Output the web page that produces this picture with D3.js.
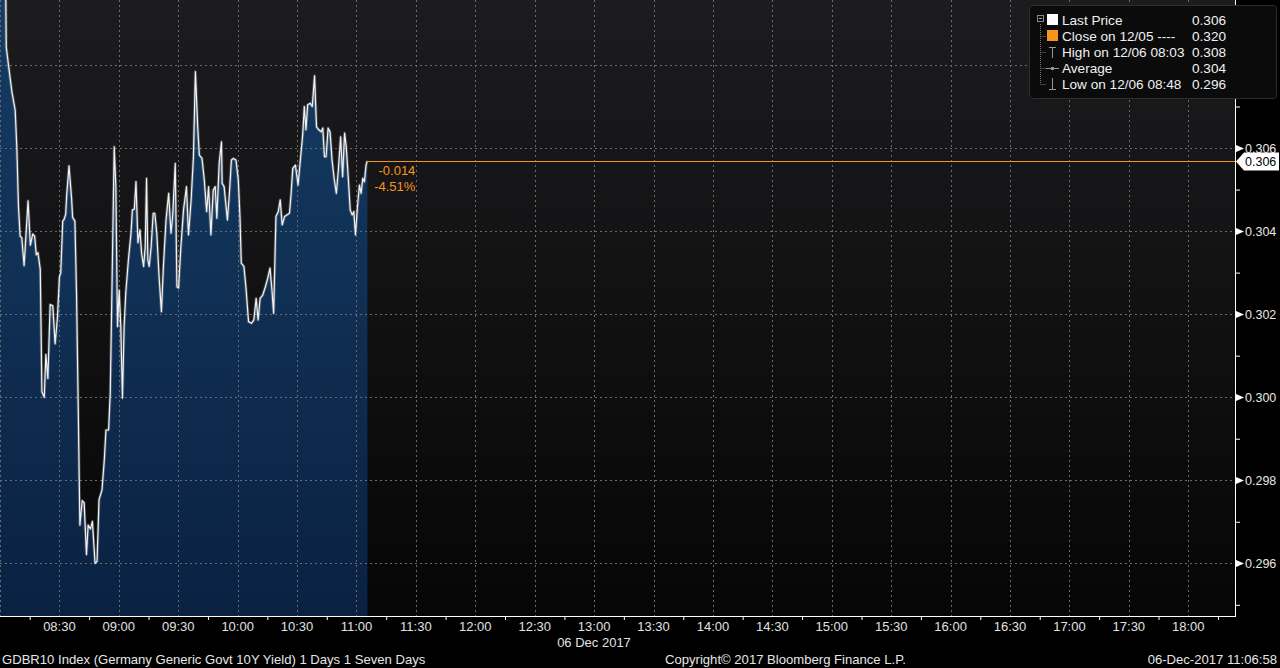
<!DOCTYPE html>
<html>
<head>
<meta charset="utf-8">
<script src="https://cdn.jsdelivr.net/npm/d3@7"></script>
<style>
  html, body { margin: 0; padding: 0; background: #000; }
  svg { display: block; }
  text { font-family: "Liberation Sans", Arial, sans-serif; }
</style>
</head>
<body>
<svg id="chart" width="1280" height="668"></svg>
<script>
// ---------------- DATA ----------------
const times = [
  "08:00:00","08:02:40","08:03:10","08:04:20","08:06:00","08:07:40","08:08:30","08:09:20","08:10:10","08:11:00",
  "08:12:10","08:14:10","08:15:20","08:16:30","08:17:30","08:18:20","08:19:10","08:20:20","08:21:10","08:22:20",
  "08:23:10","08:24:10","08:25:20","08:26:40","08:27:50","08:29:00","08:30:00","08:30:40","08:31:40","08:32:20",
  "08:33:10","08:33:40","08:34:50","08:36:10","08:36:40","08:37:50","08:38:40","08:39:30","08:40:20","08:41:30",
  "08:42:30","08:43:40","08:44:30","08:45:40","08:46:40","08:48:00","08:49:00","08:50:00","08:51:30","08:52:40",
  "08:53:30","08:54:50","08:55:40","08:56:30","08:57:40","08:58:30","08:59:20","09:00:10","09:01:00","09:01:50",
  "09:02:40","09:03:30","09:04:50","09:06:10","09:06:50","09:07:50","09:08:40","09:09:40","09:10:40","09:11:30",
  "09:12:30","09:13:20","09:14:00","09:14:40","09:15:20","09:16:20","09:17:20","09:18:10","09:19:10","09:20:20",
  "09:21:30","09:22:30","09:23:50","09:25:10","09:26:20","09:27:10","09:28:30","09:29:20","09:30:10","09:31:20",
  "09:32:40","09:34:10","09:35:10","09:36:30","09:37:40","09:38:40","09:39:50","09:40:40","09:42:00","09:43:10",
  "09:44:20","09:45:20","09:46:30","09:47:40","09:48:40","09:49:30","09:50:40","09:51:50","09:52:10","09:53:10",
  "09:54:50","09:55:50","09:56:50","09:57:50","09:59:10","10:00:20","10:01:10","10:01:50","10:03:10","10:04:10",
  "10:05:30","10:07:00","10:08:10","10:09:20","10:10:20","10:11:20","10:12:40","10:14:00","10:15:10","10:16:20",
  "10:17:20","10:18:10","10:19:20","10:20:30","10:21:30","10:22:30","10:23:40","10:24:50","10:26:10","10:27:00",
  "10:27:50","10:29:10","10:30:30","10:31:30","10:32:50","10:33:40","10:34:30","10:35:20","10:36:40","10:37:40",
  "10:38:50","10:39:50","10:41:00","10:42:10","10:43:00","10:43:50","10:44:40","10:45:40","10:46:40","10:47:40",
  "10:48:50","10:49:50","10:50:50","10:52:00","10:53:00","10:54:00","10:54:50","10:55:50","10:56:50","10:57:50",
  "10:58:40","10:59:30","11:00:30","11:01:30","11:02:20","11:03:10","11:04:00","11:04:50","11:05:30"
];
const values = [
  0.3112,0.3110,0.30843,0.30798,0.30736,0.30691,0.30602,0.30459,0.30388,0.30384,
  0.30317,0.30473,0.30366,0.30393,0.30388,0.30343,0.30348,0.30308,0.30013,0.30000,
  0.30103,0.30045,0.30223,0.30220,0.30129,0.30192,0.30290,0.30299,0.30424,0.30428,
  0.30441,0.30486,0.30557,0.30477,0.30433,0.30424,0.30245,0.29978,0.29692,0.29751,
  0.29746,0.29621,0.29692,0.29683,0.29701,0.29600,0.29605,0.29753,0.29777,0.29849,
  0.29921,0.29921,0.30011,0.30251,0.30603,0.30507,0.30170,0.30258,0.30170,0.29998,
  0.30170,0.30251,0.30331,0.30396,0.30451,0.30453,0.30519,0.30372,0.30403,0.30347,
  0.30315,0.30363,0.30527,0.30331,0.30315,0.30363,0.30443,0.30443,0.30396,0.30290,
  0.30206,0.30315,0.30427,0.30491,0.30395,0.30435,0.30563,0.30266,0.30263,0.30363,
  0.30451,0.30507,0.30391,0.30475,0.30579,0.30784,0.30651,0.30583,0.30575,0.30523,
  0.30447,0.30507,0.30391,0.30499,0.30507,0.30431,0.30563,0.30615,0.30515,0.30507,
  0.30427,0.30491,0.30571,0.30575,0.30571,0.30523,0.30435,0.30323,0.30315,0.30266,
  0.30182,0.30178,0.30186,0.30238,0.30186,0.30238,0.30246,0.30266,0.30286,0.30311,
  0.30258,0.30202,0.30435,0.30447,0.30475,0.30415,0.30435,0.30439,0.30443,0.30491,
  0.30551,0.30559,0.30511,0.30563,0.30632,0.30700,0.30644,0.30704,0.30708,0.30700,
  0.30774,0.30651,0.30644,0.30639,0.30648,0.30579,0.30579,0.30648,0.30639,0.30571,
  0.30523,0.30491,0.30547,0.30627,0.30531,0.30636,0.30603,0.30531,0.30451,0.30439,
  0.30447,0.30391,0.30459,0.30511,0.30491,0.30527,0.30519,0.30559,0.30569
];
const yTickValues = [0.296, 0.298, 0.300, 0.302, 0.304, 0.306, 0.308];
const yMinorValues = [0.295, 0.297, 0.299, 0.301, 0.303, 0.305, 0.307, 0.309];
const xTickLabels = ["08:30","09:00","09:30","10:00","10:30","11:00","11:30","12:00","12:30","13:00",
  "13:30","14:00","14:30","15:00","15:30","16:00","16:30","17:00","17:30","18:00"];
const xMinorLabels = ["08:15","08:45","09:15","09:45","10:15","10:45","11:15","11:45","12:15","12:45",
  "13:15","13:45","14:15","14:45","15:15","15:45","16:15","16:45","17:15","17:45","18:15"];
const legendLabels = ["Last Price", "Close on 12/05 ----", "High on 12/06 08:03", "Average", "Low on 12/06 08:48"];
const legendValues = ["0.306", "0.320", "0.308", "0.304", "0.296"];
const lastPrice = 0.30569;
const lastLabel = "0.306";
const changeLabels = ["-0.014", "-4.51%"];
const dateLabel = "06 Dec 2017";
const footerLeft = "GDBR10 Index (Germany Generic Govt 10Y Yield) 1 Days 1 Seven Days";
const footerMid = "Copyright\u00A9 2017 Bloomberg Finance L.P.";
const footerRight = "06-Dec-2017 11:06:58";

// ---------------- SETUP ----------------
const W = 1280, H = 668;
const plot = { left: 0, right: 1235, top: 0, bottom: 616 };
const ORANGE = "#f7941d";
const parseT = d3.timeParse("%H:%M:%S");
const parseHM = d3.timeParse("%H:%M");
const data = times.map((t, i) => ({ t: parseT(t), v: values[i] }));

const x = d3.scaleTime()
  .domain([parseT("08:00:00"), parseT("18:23:36")])
  .range([plot.left, plot.right]);
const y = d3.scaleLinear()
  .domain([0.294731, 0.309565])
  .range([plot.bottom, plot.top]);

const svg = d3.select("#chart");
const defs = svg.append("defs");

const bgGrad = defs.append("linearGradient").attr("id", "bgGrad")
  .attr("x1", 0).attr("y1", 0).attr("x2", 0).attr("y2", 1);
bgGrad.append("stop").attr("offset", "0%").attr("stop-color", "#1c1c1e");
bgGrad.append("stop").attr("offset", "100%").attr("stop-color", "#060607");

const areaGrad = defs.append("linearGradient").attr("id", "areaGrad")
  .attr("gradientUnits", "userSpaceOnUse")
  .attr("x1", 0).attr("y1", plot.top).attr("x2", 0).attr("y2", plot.bottom);
areaGrad.append("stop").attr("offset", "0%").attr("stop-color", "#153c64");
areaGrad.append("stop").attr("offset", "100%").attr("stop-color", "#0a2142");

defs.append("clipPath").attr("id", "plotClip")
  .append("rect").attr("x", plot.left).attr("y", plot.top)
  .attr("width", plot.right - plot.left).attr("height", plot.bottom - plot.top);

svg.append("rect").attr("width", W).attr("height", H).attr("fill", "#000");
svg.append("rect").attr("x", plot.left).attr("y", plot.top)
  .attr("width", plot.right - plot.left).attr("height", plot.bottom - plot.top)
  .attr("fill", "url(#bgGrad)");

const g = svg.append("g").attr("clip-path", "url(#plotClip)");

// area
const area = d3.area().x(d => x(d.t)).y0(plot.bottom).y1(d => y(d.v));
g.append("path").attr("class", "area").datum(data).attr("d", area).attr("fill", "url(#areaGrad)");

// grid
const gridColor = "#6a6a6a";
g.selectAll("line.hgrid").data(yTickValues).join("line").attr("class", "hgrid")
  .attr("x1", plot.left).attr("x2", plot.right)
  .attr("y1", d => Math.round(y(d)) + 0.5).attr("y2", d => Math.round(y(d)) + 0.5)
  .attr("stroke", gridColor).attr("stroke-width", 1).attr("stroke-dasharray", "2,3");
const xGridVals = ["08:00"].concat(xTickLabels).map(parseHM);
g.selectAll("line.vgrid").data(xGridVals).join("line").attr("class", "vgrid")
  .attr("x1", d => Math.round(x(d)) + 0.5).attr("x2", d => Math.round(x(d)) + 0.5)
  .attr("y1", plot.top).attr("y2", plot.bottom)
  .attr("stroke", gridColor).attr("stroke-width", 1).attr("stroke-dasharray", "2,3");

// line
const line = d3.line().x(d => x(d.t)).y(d => y(d.v));
g.append("path").datum(data).attr("d", line)
  .attr("fill", "none").attr("stroke", "#ffffff").attr("stroke-opacity", 0.22)
  .attr("stroke-width", 3).attr("stroke-linejoin", "round");
g.append("path").datum(data).attr("d", line)
  .attr("fill", "none").attr("stroke", "#f2f2f2").attr("stroke-width", 1.2)
  .attr("stroke-linejoin", "round");

// last price horizontal line (orange)
const last = data[data.length - 1];
const yLast = Math.round(y(lastPrice)) + 0.5;
svg.append("rect").attr("class", "lastline")
  .attr("x", x(last.t)).attr("y", yLast - 0.5)
  .attr("width", plot.right - x(last.t)).attr("height", 1)
  .attr("fill", ORANGE).attr("shape-rendering", "crispEdges");

svg.selectAll("text.chg").data(changeLabels).join("text").attr("class", "chg")
  .attr("x", x(last.t) + 48).attr("y", (d, i) => yLast + 13 + i * 16)
  .attr("text-anchor", "end").attr("fill", ORANGE).attr("font-size", 13)
  .text(d => d);

// ---------------- AXES ----------------
svg.append("line").attr("x1", plot.left).attr("x2", plot.right + 1)
  .attr("y1", plot.bottom + 0.5).attr("y2", plot.bottom + 0.5)
  .attr("stroke", "#fff").attr("stroke-width", 1);
svg.append("line").attr("x1", plot.right + 0.5).attr("x2", plot.right + 0.5)
  .attr("y1", 0).attr("y2", plot.bottom + 1)
  .attr("stroke", "#fff").attr("stroke-width", 1);

const xAxis = d3.axisBottom(x).tickValues(xMinorLabels.map(parseHM)).tickSize(4).tickFormat("");
const xa = svg.append("g").attr("transform", `translate(0,${plot.bottom})`).call(xAxis);
xa.select(".domain").remove();
xa.selectAll(".tick line").attr("stroke", "#fff");

svg.selectAll("text.xlab").data(xTickLabels).join("text").attr("class", "xlab")
  .attr("x", d => x(parseHM(d))).attr("y", 631)
  .attr("text-anchor", "middle").attr("fill", "#e0e0e0").attr("font-size", 13)
  .text(d => d);

svg.append("text").attr("x", 594).attr("y", 647).attr("text-anchor", "middle")
  .attr("fill", "#e0e0e0").attr("font-size", 13).text(dateLabel);

const yAxis = d3.axisRight(y).tickValues(yMinorValues).tickSize(5).tickFormat("");
const ya = svg.append("g").attr("transform", `translate(${plot.right},0)`).call(yAxis);
ya.select(".domain").remove();
ya.selectAll(".tick line").attr("stroke", "#fff");

const ylab = svg.selectAll("g.ylab").data(yTickValues).join("g").attr("class", "ylab")
  .attr("transform", d => `translate(${plot.right + 1},${Math.round(y(d)) + 0.5})`);
ylab.append("path").attr("d", "M0,-3.5 L8,0 L0,3.5 Z").attr("fill", "#fff");
ylab.append("text").attr("x", 9).attr("y", 4.5).attr("fill", "#e6e6e6")
  .attr("font-size", 12.5).text(d => d3.format(".3f")(d));

const tag = svg.append("g").attr("transform", `translate(${plot.right + 1},${yLast})`);
tag.append("path").attr("d", "M0,0 L8,-9 L43,-9 L43,9 L8,9 Z").attr("fill", "#ffffff");
tag.append("text").attr("x", 9).attr("y", 4.5).attr("fill", "#000")
  .attr("font-size", 12.5).text(lastLabel);

// ---------------- LEGEND ----------------
const lg = svg.append("g");
lg.append("rect").attr("x", 1029.5).attr("y", 5.5).attr("width", 247).attr("height", 93)
  .attr("rx", 3).attr("fill", "#0b0b0c").attr("stroke", "#2e2e2e");
const rowY = i => 20 + i * 16;
lg.append("line").attr("x1", 1040.5).attr("x2", 1040.5).attr("y1", 24).attr("y2", rowY(4))
  .attr("stroke", "#777").attr("stroke-dasharray", "1,1");
[1, 2, 3, 4].forEach(i => {
  lg.append("line").attr("x1", 1040.5).attr("x2", 1046).attr("y1", rowY(i) + 0.5).attr("y2", rowY(i) + 0.5)
    .attr("stroke", "#777").attr("stroke-dasharray", "1,1");
});
lg.append("rect").attr("x", 1037.5).attr("y", 15.5).attr("width", 6).attr("height", 6)
  .attr("fill", "none").attr("stroke", "#888");
lg.append("line").attr("x1", 1039).attr("x2", 1042).attr("y1", 18.5).attr("y2", 18.5).attr("stroke", "#aaa");
lg.append("rect").attr("x", 1047).attr("y", rowY(0) - 6).attr("width", 11).attr("height", 11).attr("fill", "#fff");
lg.append("rect").attr("x", 1047).attr("y", rowY(1) - 6).attr("width", 11).attr("height", 11).attr("fill", ORANGE);
lg.append("line").attr("x1", 1052.5).attr("x2", 1052.5).attr("y1", rowY(2) - 5).attr("y2", rowY(2) + 6).attr("stroke", "#999");
lg.append("line").attr("x1", 1049).attr("x2", 1056).attr("y1", rowY(2) - 4.5).attr("y2", rowY(2) - 4.5).attr("stroke", "#999");
lg.append("line").attr("x1", 1046).attr("x2", 1059).attr("y1", rowY(3) + 0.5).attr("y2", rowY(3) + 0.5).attr("stroke", "#999");
lg.append("circle").attr("cx", 1052.5).attr("cy", rowY(3) + 0.5).attr("r", 1.8).attr("fill", "#999");
lg.append("line").attr("x1", 1052.5).attr("x2", 1052.5).attr("y1", rowY(4) - 6).attr("y2", rowY(4) + 5).attr("stroke", "#999");
lg.append("line").attr("x1", 1049).attr("x2", 1056).attr("y1", rowY(4) + 5.5).attr("y2", rowY(4) + 5.5).attr("stroke", "#999");

lg.selectAll("text.ll").data(legendLabels).join("text").attr("class", "ll")
  .attr("x", 1062).attr("y", (d, i) => rowY(i) + 5)
  .attr("fill", "#f0f0f0").attr("font-size", 13.6).text(d => d);
lg.selectAll("text.lv").data(legendValues).join("text").attr("class", "lv")
  .attr("x", 1192).attr("y", (d, i) => rowY(i) + 5)
  .attr("fill", "#f0f0f0").attr("font-size", 13.6).text(d => d);

// ---------------- FOOTER ----------------
svg.append("text").attr("x", 2).attr("y", 664).attr("fill", "#e6e6e6").attr("font-size", 13.1).text(footerLeft);
svg.append("text").attr("x", 665).attr("y", 664).attr("fill", "#e6e6e6").attr("font-size", 13.1).text(footerMid);
svg.append("text").attr("x", 1277).attr("y", 664).attr("text-anchor", "end").attr("fill", "#e6e6e6").attr("font-size", 13.1).text(footerRight);
</script>
</body>
</html>
